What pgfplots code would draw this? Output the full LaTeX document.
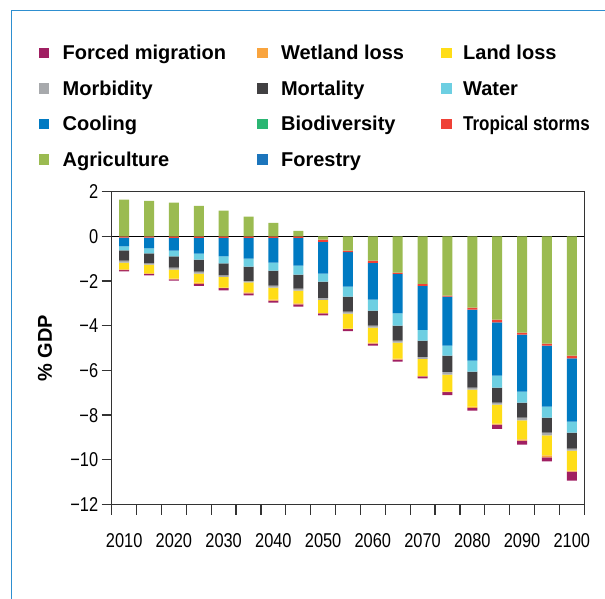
\documentclass[border=0pt]{standalone}
\usepackage{pgfplots}
\pgfplotsset{compat=1.18}
\usepackage{pgfplotstable}
\usepackage{fontspec}
\setmainfont{Liberation Sans}
\newfontfamily\tickfont{Liberation Sans}[FakeStretch=0.82]

\definecolor{cMig}{HTML}{A01F62}
\definecolor{cWet}{HTML}{F9A43E}
\definecolor{cLand}{HTML}{FFDD17}
\definecolor{cMorb}{HTML}{A7A9AC}
\definecolor{cMort}{HTML}{414042}
\definecolor{cWater}{HTML}{6DCFE2}
\definecolor{cCool}{HTML}{007AC2}
\definecolor{cBio}{HTML}{2BB673}
\definecolor{cStorm}{HTML}{EF4136}
\definecolor{cAgri}{HTML}{9BBB51}
\definecolor{cFor}{HTML}{1C75BC}
\definecolor{cFrame}{HTML}{2E8FD0}
\definecolor{axgray}{HTML}{333333}

\pgfplotstableread{
x    agri   ts    cool  water mort  morb  land  wet   mig
2010  1.64  -0.05 -0.40 -0.18 -0.45 -0.09 -0.31 -0.03 -0.06
2015  1.59  -0.06 -0.48 -0.22 -0.45 -0.05 -0.39 -0.03 -0.07
2020  1.51  -0.07 -0.57 -0.25 -0.51 -0.09 -0.40 -0.03 -0.06
2025  1.37  -0.07 -0.70 -0.27 -0.54 -0.09 -0.40 -0.05 -0.09
2030  1.15  -0.07 -0.83 -0.31 -0.54 -0.06 -0.48 -0.03 -0.10
2035  0.88  -0.07 -0.92 -0.36 -0.64 -0.07 -0.45 -0.04 -0.09
2040  0.61  -0.07 -1.10 -0.36 -0.67 -0.09 -0.54 -0.04 -0.09
2045  0.25  -0.07 -1.24 -0.40 -0.63 -0.09 -0.57 -0.04 -0.10
2050 -0.15  -0.09 -1.43 -0.36 -0.72 -0.09 -0.58 -0.03 -0.09
2055 -0.64  -0.06 -1.55 -0.45 -0.67 -0.09 -0.67 -0.02 -0.09
2060 -1.09  -0.09 -1.65 -0.49 -0.67 -0.09 -0.67 -0.05 -0.09
2065 -1.62  -0.06 -1.77 -0.54 -0.67 -0.09 -0.72 -0.05 -0.09
2070 -2.12  -0.09 -1.97 -0.49 -0.72 -0.09 -0.76 -0.02 -0.09
2075 -2.65  -0.05 -2.19 -0.45 -0.72 -0.13 -0.76 -0.02 -0.13
2080 -3.19  -0.09 -2.28 -0.49 -0.72 -0.09 -0.76 -0.05 -0.13
2085 -3.73  -0.12 -2.38 -0.54 -0.67 -0.09 -0.85 -0.05 -0.18
2090 -4.31  -0.09 -2.55 -0.49 -0.67 -0.13 -0.85 -0.05 -0.18
2095 -4.80  -0.09 -2.73 -0.49 -0.67 -0.13 -0.89 -0.09 -0.18
2100 -5.34  -0.12 -2.83 -0.49 -0.72 -0.09 -0.89 -0.05 -0.40
}\data

\pgfplotsset{
  legsq/.style n args={3}{legend image code/.code={%
    \path (-#2,0bp) (#3,0bp);
    \fill[#1] (0bp,-4.85bp) rectangle (9.7bp,4.85bp);}},
}

\begin{document}
\begin{tikzpicture}
\path[use as bounding box] (0bp,0bp) rectangle (605bp,-599bp);
\draw[cFrame, line width=1bp] (11.6bp,-599bp) -- (11.6bp,-10.5bp) -- (605bp,-10.5bp);
\begin{axis}[
  at={(111.7bp,-504.5bp)}, anchor=south west,
  scale only axis, width=472.6bp, height=312.8bp,
  ybar stacked, bar width=10bp,
  xmin=2007.5, xmax=2102.5, ymin=-12, ymax=2,
  xtick={2010,2020,2030,2040,2050,2060,2070,2080,2090,2100},
  xticklabels={2010,2020,2030,2040,2050,2060,2070,2080,2090,2100},
  minor xtick={2007.5,2012.5,2017.5,2022.5,2027.5,2032.5,2037.5,2042.5,2047.5,2052.5,2057.5,2062.5,2067.5,2072.5,2077.5,2082.5,2087.5,2092.5,2097.5,2102.5},
  ytick={-12,-10,-8,-6,-4,-2,0,2},
  yticklabels={−12,−10,−8,−6,−4,−2,0,2},
  tick align=outside, xtick pos=lower, ytick pos=left,
  major tick length=10bp, minor tick length=10bp,
  major x tick style={draw=none},
  tick style={line width=1.3bp, color=axgray},
  axis line style={line width=1.5bp, color=axgray},
  ticklabel style={font=\tickfont\fontsize{20bp}{24bp}\selectfont},
  xticklabel style={anchor=center, yshift=-26bp},
  ylabel={\% GDP},
  ylabel style={font=\bfseries\fontsize{20bp}{24bp}\selectfont, at={(axis description cs:-0.141,0.5)}, anchor=center},
  legend columns=3,
  legend cell align=left,
  legend style={at={(axis description cs:-0.1547,1.4677)}, anchor=north west,
    draw=none, fill=none, inner sep=0pt, outer sep=0pt, column sep=0pt, row sep=21.3bp,
    font=\bfseries\fontsize{20bp}{24bp}\selectfont,
    nodes={inner sep=0pt, text height=14.3bp, text depth=0pt}},
]
\addplot[forget plot, fill=cAgri, draw=none] table[x=x,y=agri]{\data};
\addplot[forget plot, fill=cStorm, draw=none] table[x=x,y=ts]{\data};
\addplot[forget plot, fill=cCool, draw=none] table[x=x,y=cool]{\data};
\addplot[forget plot, fill=cWater, draw=none] table[x=x,y=water]{\data};
\addplot[forget plot, fill=cMort, draw=none] table[x=x,y=mort]{\data};
\addplot[forget plot, fill=cMorb, draw=none] table[x=x,y=morb]{\data};
\addplot[forget plot, fill=cLand, draw=none] table[x=x,y=land]{\data};
\addplot[forget plot, fill=cWet, draw=none] table[x=x,y=wet]{\data};
\addplot[forget plot, fill=cMig, draw=none] table[x=x,y=mig]{\data};

\addlegendimage{legsq={cMig}{0bp}{23.2bp}}\addlegendentry{\rlap{Forced migration}}
\addlegendimage{legsq={cWet}{194.2bp}{22.8bp}}\addlegendentry{\rlap{Wetland loss}}
\addlegendimage{legsq={cLand}{159.4bp}{21.3bp}}\addlegendentry{\rlap{Land loss}}
\addlegendimage{legsq={cMorb}{0bp}{23.2bp}}\addlegendentry{\rlap{Morbidity}}
\addlegendimage{legsq={cMort}{194.2bp}{22.8bp}}\addlegendentry{\rlap{Mortality}}
\addlegendimage{legsq={cWater}{159.4bp}{21.3bp}}\addlegendentry{\rlap{Water}}
\addlegendimage{legsq={cCool}{0bp}{23.2bp}}\addlegendentry{\rlap{Cooling}}
\addlegendimage{legsq={cBio}{194.2bp}{22.8bp}}\addlegendentry{\rlap{Biodiversity}}
\addlegendimage{legsq={cStorm}{159.4bp}{21.3bp}}\addlegendentry{\rlap{\scalebox{0.85}[1]{Tropical storms}}}
\addlegendimage{legsq={cAgri}{0bp}{23.2bp}}\addlegendentry{\rlap{Agriculture}}
\addlegendimage{legsq={cFor}{194.2bp}{22.8bp}}\addlegendentry{\rlap{Forestry}}

\draw[black, line width=1.3bp] (axis cs:2007.5,0) -- (axis cs:2102.5,0);
\end{axis}
\end{tikzpicture}
\end{document}
